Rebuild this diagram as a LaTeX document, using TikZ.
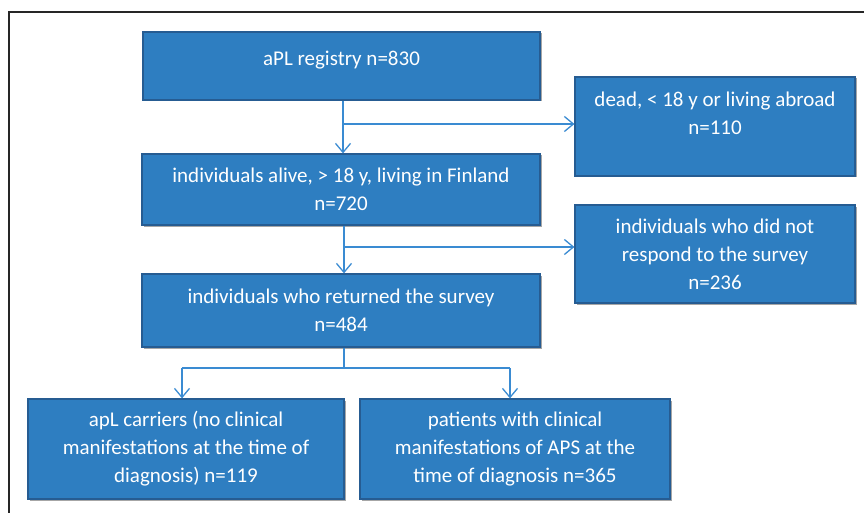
\documentclass[tikz,border=0pt]{standalone}
\usepackage{fontspec}
\setmainfont{Carlito}
\usetikzlibrary{arrows.meta,shadows}
\definecolor{boxfill}{RGB}{46,126,193}
\definecolor{boxline}{RGB}{38,92,146}
\definecolor{arrcol}{RGB}{58,139,210}
\tikzset{
  fbox/.style={draw=boxline, line width=1.2pt, fill=boxfill, text=white,
    align=center, inner sep=0pt,
    font=\fontsize{21pt}{28pt}\selectfont,
    drop shadow={shadow xshift=1.5pt, shadow yshift=-1.5pt, opacity=0.35, fill=black}},
  conn/.style={draw=arrcol, line width=1.3pt},
  arr/.style={conn, -{Straight Barb[length=9pt,width=15pt,line width=1.3pt]}}
}
\begin{document}
\begin{tikzpicture}[x=1pt,y=-1pt]
\useasboundingbox (0,0) rectangle (864,513);
\draw[line width=1.2pt, black!85] (9,513) -- (9,12) -- (864,12);

\node[fbox, minimum width=397pt, minimum height=68pt] (b1) at (341.5,66)
  {\smash{aPL registry n=830}};
\node[fbox, minimum width=280pt, minimum height=99pt] (dead) at (715,126.5)
  {dead, < 18 y or living abroad\\n=110\\[-10pt]\strut};
\node[fbox, minimum width=398pt, minimum height=71pt] (b2) at (341,189.5)
  {individuals alive, > 18 y, living in Finland\\n=720};
\node[fbox, minimum width=280pt, minimum height=98pt] (nr) at (715,254)
  {individuals who did not\\respond to the survey\\n=236};
\node[fbox, minimum width=398pt, minimum height=73pt] (b3) at (341,310.5)
  {individuals who returned the survey\\n=484};
\node[fbox, minimum width=316pt, minimum height=100pt] (c1) at (186,449)
  {apL carriers (no clinical\\manifestations at the time of\\diagnosis) n=119};
\node[fbox, minimum width=310pt, minimum height=100pt] (c2) at (515,449)
  {patients with clinical\\manifestations of APS at the\\time of diagnosis n=365};

\coordinate (j1) at (343,124);
\coordinate (j2) at (344,247);
\coordinate (j3) at (344,368);
\coordinate (l3) at (182,368);
\coordinate (r3) at (510,368);

\draw[arr] (b1.south -| j1) -- (b2.north -| j1);
\draw[arr] (j1) -- (dead.west |- j1);
\draw[arr] (b2.south -| j2) -- (b3.north -| j2);
\draw[arr] (j2) -- (nr.west |- j2);
\draw[conn] (b3.south -| j3) -- (j3);
\draw[conn] (l3) -- (r3);
\draw[arr] (l3) -- (c1.north -| l3);
\draw[arr] (r3) -- (c2.north -| r3);
\end{tikzpicture}
\end{document}
